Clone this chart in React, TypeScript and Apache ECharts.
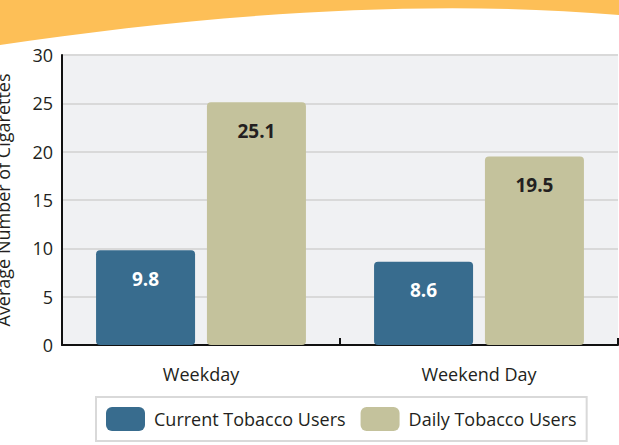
import React, { useEffect, useRef } from "react";
import * as echarts from "echarts";

const categories = ["Weekday", "Weekend Day"];
const currentUsers = [9.8, 8.6];
const dailyUsers = [25.1, 19.5];
const seriesNames = ["Current Tobacco Users", "Daily Tobacco Users"];
const yTicks = { min: 0, max: 30, interval: 5 };
const yAxisTitle = "Average Number of Cigarettes";

const FONT = "'Open Sans', sans-serif";
const TEXT = "#231f20";

let registered = false;
function registerWave() {
  if (registered) return;
  registered = true;
  const d = "M0 0 L619 0 L619 15 C420 -2 200 15 0 45 Z";
  echarts.graphic.registerShape("wave", echarts.graphic.extendPath(d, {}) as any);
}

export default function App() {
  const ref = useRef<HTMLDivElement>(null);
  useEffect(() => {
    if (!ref.current) return;
    registerWave();
    const chart = echarts.init(ref.current, null, { renderer: "svg" });
    const labelBase = {
      show: true,
      position: "insideTop",
      distance: 19,
      fontSize: 19,
      fontWeight: "bold",
      fontFamily: FONT,
    };
    chart.setOption({
      animation: false,
      backgroundColor: "#ffffff",
      textStyle: { fontFamily: FONT },
      graphic: [
        {
          type: "wave",
          x: 0,
          y: 0,
          shape: {},
          style: { fill: "#fdbf57" },
          silent: true,
        },
      ],
      grid: {
        left: 62,
        right: 1,
        top: 55,
        bottom: 100,
        show: true,
        backgroundColor: "#f0f1f3",
        borderWidth: 0,
        containLabel: false,
        outerBoundsMode: "none",
      },
      legend: {
        left: 96,
        top: 397,
        padding: [10, 10, 10, 10],
        borderColor: "#d9d9d9",
        borderWidth: 2,
        itemWidth: 39,
        itemHeight: 24,
        itemGap: 15,
        data: seriesNames,
        textStyle: { fontSize: 18, color: TEXT, fontFamily: FONT, padding: [0, 0, 0, 4] },
        itemStyle: { borderRadius: 3 },
      },
      xAxis: {
        type: "category",
        data: categories,
        axisLine: { lineStyle: { color: "#111", width: 2 } },
        axisTick: { show: true, inside: true, length: 7, lineStyle: { color: "#111", width: 2 } },
        axisLabel: { fontSize: 18, color: TEXT, margin: 20, fontFamily: FONT },
      },
      yAxis: {
        type: "value",
        min: yTicks.min,
        max: yTicks.max,
        interval: yTicks.interval,
        name: yAxisTitle,
        nameLocation: "middle",
        nameGap: 50,
        nameTextStyle: { fontSize: 18, color: TEXT, fontFamily: FONT },
        axisLine: { show: true, lineStyle: { color: "#111", width: 2 } },
        axisTick: { show: false },
        axisLabel: { fontSize: 18, color: TEXT, margin: 9, fontFamily: FONT },
        splitLine: { lineStyle: { color: "#d9d9d9", width: 2 } },
      },
      series: [
        {
          name: seriesNames[0],
          type: "bar",
          data: currentUsers,
          barGap: "12%",
          barCategoryGap: "24.5%",
          itemStyle: { color: "#386c8e", borderRadius: [4, 4, 4, 4] },
          label: { ...labelBase, color: "#ffffff" },
        },
        {
          name: seriesNames[1],
          type: "bar",
          data: dailyUsers,
          barGap: "12%",
          barCategoryGap: "24.5%",
          itemStyle: { color: "#c4c29c", borderRadius: [4, 4, 4, 4] },
          label: { ...labelBase, color: TEXT },
        },
      ],
    });
    return () => chart.dispose();
  }, []);
  return <div ref={ref} style={{ width: 619, height: 445, position: "absolute", left: 0, top: 0 }} />;
}
